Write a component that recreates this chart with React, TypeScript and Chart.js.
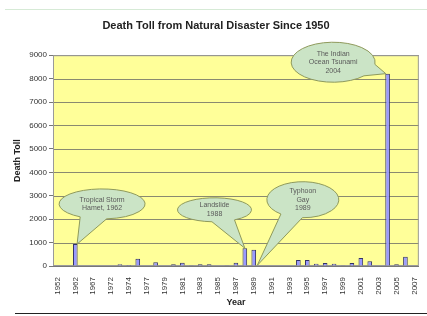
import React, { useEffect, useRef } from "react";
import { Chart, registerables } from "chart.js";
Chart.register(...registerables);

const years = [
  "1952", "1960", "1962", "1965", "1967", "1970", "1972", "1973", "1974", "1976",
  "1977", "1978", "1979", "1980", "1981", "1982", "1983", "1984", "1985", "1986",
  "1987", "1988", "1989", "1990", "1991", "1992", "1993", "1994", "1995", "1996",
  "1997", "1998", "1999", "2000", "2001", "2002", "2003", "2004", "2005", "2006",
  "2007",
];
const deaths = [
  0, 0, 935, 0, 0, 0, 0, 80, 40, 310,
  0, 160, 0, 70, 140, 30, 70, 70, 0, 30,
  140, 760, 690, 25, 25, 0, 25, 260, 260, 100,
  130, 100, 30, 130, 340, 200, 20, 8212, 70, 400,
  20,
];
const yMin = 0;
const yMax = 9000;
const yStep = 1000;

const calloutLines = [
  ["Tropical Storm", "Hamet, 1962"],
  ["Landslide", "1988"],
  ["Typhoon", "Gay", "1989"],
  ["The Indian", "Ocean Tsunami", "2004"],
];
// bubble centre (category index, value) and tip target (category index, value)
const calloutCenterIdx = [5.0, 17.6, 27.5, 30.9];
const calloutCenterVal = [2650, 2400, 2830, 8700];
const calloutTipIdx = [2.2, 21, 22.4, 36.8];
const calloutTipVal = [935, 760, 30, 8212];
const calloutRx = [43, 37, 36, 42];
const calloutRy = [15, 12, 18, 20];

const calloutPlugin = {
  id: "callouts",
  afterDatasetsDraw(chart: any) {
    const ctx = chart.ctx;
    const xs = chart.scales.x;
    const ys = chart.scales.y;
    ctx.save();
    for (let i = 0; i < calloutLines.length; i++) {
      const cx = xs.getPixelForValue(calloutCenterIdx[i]);
      const cy = ys.getPixelForValue(calloutCenterVal[i]);
      const ax = xs.getPixelForValue(calloutTipIdx[i]);
      const ay = ys.getPixelForValue(calloutTipVal[i]);
      const rx = calloutRx[i];
      const ry = calloutRy[i];
      const t = Math.atan2((ay - cy) / ry, (ax - cx) / rx);
      const d = 0.32;
      ctx.beginPath();
      ctx.moveTo(ax, ay);
      ctx.lineTo(cx + rx * Math.cos(t + d), cy + ry * Math.sin(t + d));
      ctx.ellipse(cx, cy, rx, ry, 0, t + d, t - d + Math.PI * 2);
      ctx.closePath();
      ctx.fillStyle = "#cbe4c6";
      ctx.fill();
      ctx.strokeStyle = "#8f9a5c";
      ctx.lineWidth = 1;
      ctx.stroke();
      const lines = calloutLines[i];
      ctx.fillStyle = "#5a5a5a";
      ctx.font = "7px 'Liberation Sans', Arial, sans-serif";
      ctx.textAlign = "center";
      ctx.textBaseline = "middle";
      const lh = 8.5;
      const y0 = cy - ((lines.length - 1) * lh) / 2;
      lines.forEach((l, k) => ctx.fillText(l, cx, y0 + k * lh));
    }
    ctx.restore();
  },
};

const framePlugin = {
  id: "frame",
  beforeDraw(chart: any) {
    const ctx = chart.ctx;
    ctx.save();
    ctx.fillStyle = "#ffffff";
    ctx.fillRect(0, 0, chart.width, chart.height);
    ctx.strokeStyle = "#d6ead6";
    ctx.lineWidth = 1;
    ctx.beginPath();
    ctx.moveTo(5, 9.5);
    ctx.lineTo(chart.width, 9.5);
    ctx.stroke();
    ctx.strokeStyle = "#222222";
    ctx.beginPath();
    ctx.moveTo(15, 313.5);
    ctx.lineTo(chart.width, 313.5);
    ctx.stroke();
    ctx.restore();
  },
  beforeDatasetsDraw(chart: any) {
    const { ctx, chartArea } = chart;
    ctx.save();
    ctx.fillStyle = "#ffff99";
    ctx.fillRect(chartArea.left, chartArea.top, chartArea.right - chartArea.left, chartArea.bottom - chartArea.top);
    const ys = chart.scales.y;
    ctx.strokeStyle = "#8a8a70";
    ctx.lineWidth = 1;
    for (let v = yMin + yStep; v <= yMax; v += yStep) {
      const y = Math.round(ys.getPixelForValue(v)) + 0.5;
      ctx.beginPath();
      ctx.moveTo(chartArea.left, y);
      ctx.lineTo(chartArea.right, y);
      ctx.stroke();
    }
    ctx.strokeStyle = "#9a9a9a";
    ctx.strokeRect(chartArea.left + 0.5, chartArea.top + 0.5, chartArea.right - chartArea.left - 1, chartArea.bottom - chartArea.top - 1);
    ctx.restore();
  },
};

export default function App() {
  const ref = useRef<HTMLCanvasElement>(null);
  useEffect(() => {
    document.body.style.margin = "0";
    const chart = new Chart(ref.current as HTMLCanvasElement, {
      type: "bar",
      data: {
        labels: years,
        datasets: [
          {
            data: deaths,
            backgroundColor: "#9999ff",
            borderColor: "#333366",
            borderWidth: 1,
            barPercentage: 0.52,
            categoryPercentage: 1,
          },
        ],
      },
      options: {
        animation: false,
        responsive: false,
        maintainAspectRatio: false,
        layout: { padding: { left: 8, right: 3, top: 0, bottom: 8 } },
        plugins: {
          legend: { display: false },
          tooltip: { enabled: false },
          title: {
            display: true,
            text: "Death Toll from Natural Disaster Since 1950",
            color: "#222",
            font: { family: "'Liberation Sans', Arial, sans-serif", size: 11, weight: "bold" },
            padding: { top: 19, bottom: 23 },
          },
        },
        scales: {
          x: {
            grid: { display: false },
            border: { color: "#777" },
            ticks: {
              autoSkip: false,
              maxRotation: 90,
              minRotation: 90,
              color: "#333",
              padding: 3,
              font: { family: "'Liberation Sans', Arial, sans-serif", size: 8 },
              callback: (_v: any, i: number) => (i % 2 === 0 ? years[i] : ""),
            },
            title: {
              display: true,
              text: "Year",
              color: "#222",
              font: { family: "'Liberation Sans', Arial, sans-serif", size: 9, weight: "bold" },
              padding: { top: 2, bottom: 0 },
            },
            afterFit: (s: any) => {
              s.height = 42;
            },
          },
          y: {
            min: yMin,
            max: yMax,
            ticks: {
              stepSize: yStep,
              color: "#333",
              padding: 2,
              font: { family: "'Liberation Sans', Arial, sans-serif", size: 8 },
              callback: (v: any) => String(v),
            },
            grid: {
              display: true,
              drawOnChartArea: false,
              drawTicks: true,
              tickLength: 4,
              color: "#777",
            },
            border: { color: "#777" },
            title: {
              display: true,
              text: "Death Toll",
              color: "#222",
              font: { family: "'Liberation Sans', Arial, sans-serif", size: 9, weight: "bold" },
              padding: { top: 4, bottom: 0 },
            },
            afterFit: (s: any) => {
              s.width = 45;
            },
          },
        },
      },
      plugins: [framePlugin, calloutPlugin],
    });
    return () => chart.destroy();
  }, []);
  return (
    <div style={{ width: 427, height: 316 }}>
      <canvas ref={ref} width={427} height={316} style={{ display: "block" }} />
    </div>
  );
}
